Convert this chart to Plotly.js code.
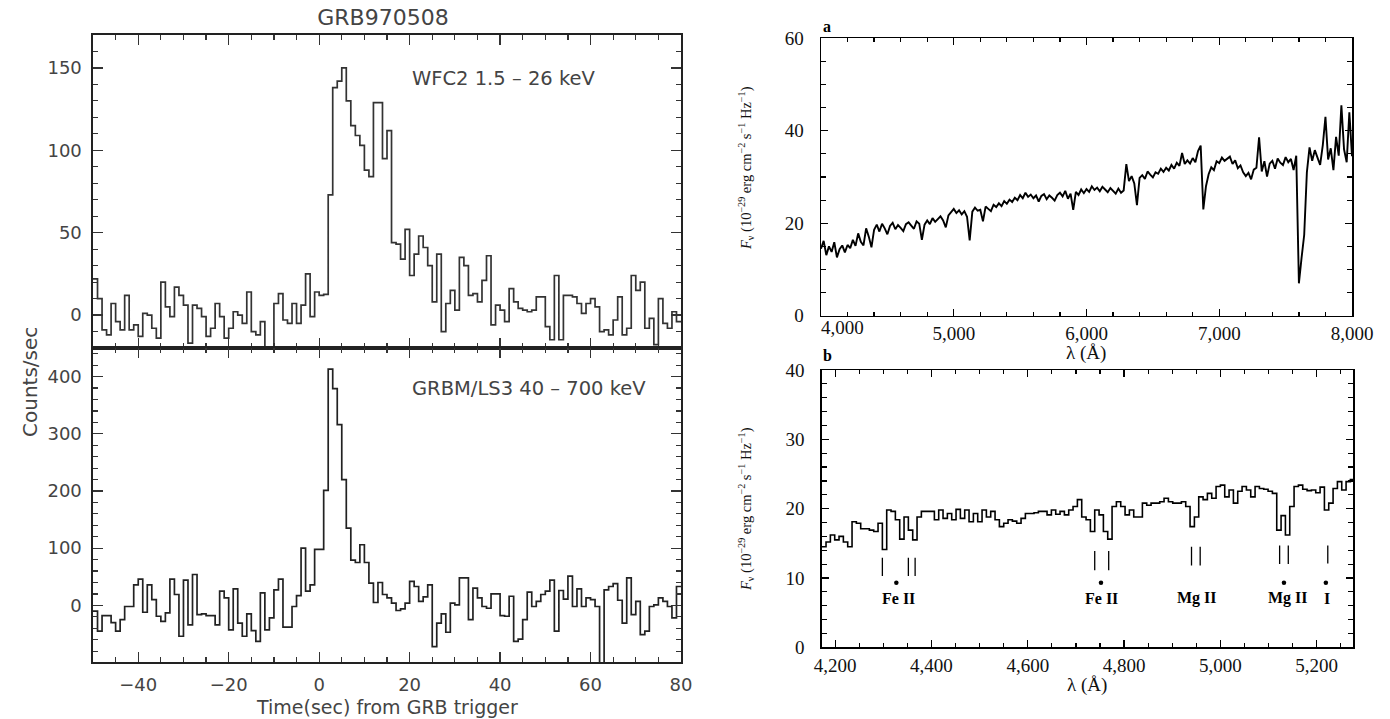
<!DOCTYPE html>
<html>
<head>
<meta charset="utf-8">
<script src="https://cdn.plot.ly/plotly-3.0.1.min.js"></script>
<style>html,body{margin:0;padding:0;background:#fff;}#chart{width:1390px;height:719px;}</style>
</head>
<body>
<div id="chart"></div>
<script>
// ---------- Left: GRB970508 light curves (1 s bins starting at -50 s) ----------
const binStart = -50;
const binWidth = 1;
const wfc2Counts = [
  22, 10, -9, -12, 7, -4, -9, 12, -9, -6,
  -13, 1, 0, -8, -14, 20, 5, -1, 17, 12,
  6, -17, 6, 4, -1, -13, -8, 7, -1, -14,
  -8, 2, 0, -5, 14, -10, -12, -4, -30, -30,
  7, 13, -3, -5, 7, -5, 6, 25, -1, 14,
  12, 12.5, 73, 138, 142, 150, 130, 115, 109, 103,
  88, 84, 129, 129, 95, 112, 44, 43, 34, 52,
  24, 37, 48, 41, 30, 8, 37, -10, 7, 15,
  3, 35, 30, 12, 13, 8, 21, 36, -6, 6,
  3, -4, 16, 8, 4, 3, 2, 3, 11, 11,
  -7, -15, 24, -15, 12, 12, 11, 7, 1, 7,
  10, 5, -10, -9, -12, -3, 11, -12, -8, 24,
  15, 20, -8, -2, -18, 10, -5, -8, 2, -4
];
const grbmCounts = [
  -10, -45, -18, -18, -30, -45, -25, -2, -2, 36,
  46, -12, 36, 10, -19, -28, -13, 46, 19, -54,
  44, -34, 54, -16, -15, -18, -18, -34, 25, 13,
  -43, 29, -31, -54, -15, -44, -63, 22, -43, -22,
  27, 46, -38, -38, -2, 17, 100, 25, 36, 98,
  98, 201, 413, 379, 316, 220, 135, 79, 75, 106,
  75, 39, 5, 40, 19, 13, 4, -9, -6, 4,
  42, 33, 7, 15, 36, -72, -31, -15, -47, 4,
  1, 48, 48, -25, 30, 13, -2, -5, 20, 20,
  -18, -19, 16, -63, -59, -25, 23, -2, 7, 19,
  25, 44, -45, 26, 11, 51, -2, 29, -2, 13,
  10, -2, -150, 27, 33, 38, 9, -31, 48, -16,
  7, -51, -45, -2, 1, 13, 7, -2, -22, 33
];

// ---------- Right a: spectrum 4000-8000 A, 20 A sampling ----------
const specAStart = 4000;
const specAStep = 20;
const fluxA = [
  14.5, 16.2, 13.1, 15.0, 13.8, 15.9, 12.6, 14.4, 15.2, 13.7,
  15.3, 14.6, 16.4, 15.1, 17.8, 16.0, 15.2, 18.9, 17.1, 14.8,
  18.6, 19.7, 18.2, 19.9, 18.9, 17.6, 19.4, 20.1, 18.7, 19.6,
  19.0, 18.3, 19.8, 20.2, 19.5, 18.8, 20.4, 19.9, 16.4, 19.7,
  20.6, 19.8, 21.1, 20.3, 20.9, 21.5, 20.6, 19.1, 21.7, 22.4,
  23.1, 22.2, 22.8, 21.9, 22.6, 21.4, 16.3, 22.5, 23.4, 22.7,
  22.9, 20.4, 23.6, 23.1, 22.6, 24.0, 23.5, 24.3, 23.7, 24.8,
  24.2, 25.1, 24.6, 25.5, 25.0, 26.1, 25.4, 26.6, 25.7, 26.2,
  25.4, 26.0, 24.7, 25.9, 26.3, 25.2, 26.0, 25.5, 24.9, 26.1,
  26.6, 25.8, 27.0, 25.3, 26.4, 22.9, 26.8, 26.1, 27.3, 26.5,
  27.4, 26.8, 28.0, 27.2, 27.7, 26.9, 27.9, 27.3, 26.7, 27.6,
  27.0, 26.4, 27.5, 26.6, 27.1, 32.8, 29.1, 30.2, 28.6, 23.9,
  29.8, 30.4, 29.6, 31.2, 30.5, 29.9, 31.0, 30.7, 31.8, 31.1,
  32.0, 31.4, 32.6, 31.8, 33.1, 32.4, 35.2, 32.8, 33.6, 32.9,
  34.1, 33.2, 35.6, 36.8, 23.0, 28.0, 30.6, 32.1, 31.5, 33.4,
  33.0, 34.2, 33.5, 33.9, 34.4, 32.8, 33.6, 31.9, 32.5, 31.0,
  30.2, 30.9, 29.5, 31.6, 32.0, 38.6, 31.2, 33.4, 30.1, 32.9,
  33.5, 31.8, 34.0, 33.1, 32.6, 34.3, 33.2, 33.9, 31.5, 34.6,
  7.0, 12.5, 17.5, 31.0, 36.4, 33.5, 35.8, 34.2, 32.6, 36.9,
  43.0, 33.8, 36.2, 31.5, 38.7, 34.6, 45.5, 36.0, 33.2, 44.0,
  34.5
];

// ---------- Right b: spectrum 4172-5276 A, 9 A bins ----------
const specBStart = 4172;
const specBStep = 9;
const fluxB = [
  14.5, 15.2, 16.2, 15.5, 16.0, 15.2, 14.5, 18.1, 17.9, 17.1,
  17.1, 16.9, 16.7, 17.9, 14.1, 19.8, 19.6, 18.4, 15.6, 18.8,
  16.9, 15.5, 18.8, 19.6, 19.6, 19.6, 18.4, 19.8, 18.6, 19.3,
  18.4, 19.9, 18.6, 19.8, 18.1, 19.3, 18.1, 19.8, 18.8, 19.6,
  18.4, 17.4, 17.9, 18.4, 18.2, 17.9, 18.6, 19.3, 19.3, 19.4,
  19.6, 19.6, 19.1, 19.8, 19.2, 19.6, 19.1, 19.8, 20.3, 21.3,
  18.8, 18.4, 16.7, 19.8, 19.1, 16.7, 15.6, 20.3, 21.0, 20.3,
  19.1, 19.8, 18.8, 18.8, 20.8, 20.5, 20.8, 20.8, 21.0, 21.5,
  21.0, 20.8, 20.8, 21.0, 20.3, 17.4, 18.8, 21.7, 21.3, 22.2,
  21.5, 23.2, 23.4, 21.7, 22.7, 20.8, 22.5, 23.2, 22.7, 21.7,
  23.2, 22.9, 22.8, 22.5, 22.2, 16.9, 19.0, 16.2, 20.3, 23.2,
  23.4, 22.8, 22.6, 22.7, 22.3, 23.1, 19.8, 20.8, 22.9, 23.9,
  22.7, 23.9, 24.2
];

// absorption line identifications (panel b)
const lineWaves  = [4298, 4352, 4366, 4739, 4768, 4940, 4958, 5123, 5141, 5223];
const lineTop    = [12.9, 12.9, 12.9, 13.9, 13.9, 14.5, 14.5, 14.7, 14.7, 14.7];
const lineBottom = [10.3, 10.3, 10.3, 11.1, 11.1, 11.8, 11.8, 12.0, 12.0, 12.1];
const dotWaves = [4327, 4752, 5132, 5219];
const dotLevel = 9.3;
const labelNames = ['Fe II', 'Fe II', 'Mg II', 'Mg II', 'I'];
const labelWaves = [4331, 4754, 4951, 5140, 5221];
const labelLevel = 7.1;

// ---------- build traces ----------
function edges(n, start, w) { const e = []; for (let i = 0; i <= n; i++) e.push(start + i * w); return e; }
function closeSteps(v) { return v.concat([v[v.length - 1]]); }

const tTop = edges(wfc2Counts.length, binStart, binWidth);
const tBot = edges(grbmCounts.length, binStart, binWidth);
const lamA = fluxA.map((_, i) => specAStart + i * specAStep);
const lamB = edges(fluxB.length, specBStart, specBStep);

const markX = [], markY = [];
lineWaves.forEach((w, i) => { markX.push(w, w, null); markY.push(lineBottom[i], lineTop[i], null); });

const traces = [
  {x: tTop, y: closeSteps(wfc2Counts), xaxis: 'x', yaxis: 'y', mode: 'lines',
   line: {shape: 'hv', color: '#333', width: 1.7}, hoverinfo: 'skip'},
  {x: tBot, y: closeSteps(grbmCounts), xaxis: 'x2', yaxis: 'y2', mode: 'lines',
   line: {shape: 'hv', color: '#222', width: 1.7}, hoverinfo: 'skip'},
  {x: lamA, y: fluxA, xaxis: 'x3', yaxis: 'y3', mode: 'lines',
   line: {color: '#000', width: 1.9}, hoverinfo: 'skip'},
  {x: lamB, y: closeSteps(fluxB), xaxis: 'x4', yaxis: 'y4', mode: 'lines',
   line: {shape: 'hv', color: '#000', width: 1.6}, hoverinfo: 'skip'},
  {x: markX, y: markY, xaxis: 'x4', yaxis: 'y4', mode: 'lines',
   line: {color: '#000', width: 1.3}, hoverinfo: 'skip'},
  {x: dotWaves, y: dotWaves.map(() => dotLevel), xaxis: 'x4', yaxis: 'y4', mode: 'markers',
   marker: {color: '#000', size: 4.5}, hoverinfo: 'skip'}
];

// ---------- layout ----------
const W = 1390, H = 719;
const px = v => v / W, py = v => 1 - v / H;

const SANS = 'DejaVu Sans, Verdana, sans-serif';
const SERIF = 'Liberation Serif, Times New Roman, serif';
const sansTick = {family: SANS, size: 18, color: '#444'};
const serifTick = {family: SERIF, size: 19, color: '#111'};

function leftAxis(extra) {
  return Object.assign({
    showline: true, linecolor: '#222', linewidth: 1.6, mirror: 'ticks',
    ticks: 'inside', ticklen: 10, tickwidth: 1.2, tickcolor: '#333',
    showgrid: false, zeroline: false, tickfont: sansTick, ticklabelstandoff: 6
  }, extra);
}
function rightAxis(extra) {
  return Object.assign({
    showline: true, linecolor: '#000', linewidth: 1.5, mirror: 'ticks',
    ticks: 'inside', ticklen: 7, tickwidth: 1.2, tickcolor: '#000',
    showgrid: false, zeroline: false, tickfont: serifTick, ticklabelstandoff: 0
  }, extra);
}
function note(text, x, y, font, extra) {
  return Object.assign({text: text, xref: 'paper', yref: 'paper', x: px(x), y: py(y),
    showarrow: false, xanchor: 'center', yanchor: 'middle', font: font}, extra || {});
}

const leftX = [px(93), px(681)];
const specTitle = '<i>F</i><sub>ν</sub> (10<sup>−29</sup> erg cm<sup>−2</sup> s<sup>−1</sup> Hz<sup>−1</sup>)';
const layout = {
  width: W, height: H,
  margin: {l: 0, r: 0, t: 0, b: 0},
  paper_bgcolor: '#fff', plot_bgcolor: '#fff',
  showlegend: false,
  title: {text: 'GRB970508', x: px(383), xanchor: 'center', y: py(17), yanchor: 'middle',
          font: {family: SANS, size: 22, color: '#444'}},
  xaxis: leftAxis({domain: leftX, anchor: 'y', range: [-50, 80], dtick: 20, tick0: 0,
    showticklabels: false, minor: {ticks: 'inside', ticklen: 5, dtick: 5, tickcolor: '#333'}}),
  yaxis: leftAxis({domain: [py(348), py(35)], anchor: 'x', range: [-20, 170], dtick: 50, tick0: 0,
    minor: {ticks: 'inside', ticklen: 5, dtick: 10, tickcolor: '#333'}}),
  xaxis2: leftAxis({domain: leftX, anchor: 'y2', range: [-50, 80], dtick: 20, tick0: 0,
    ticklabelstandoff: 6,
    minor: {ticks: 'inside', ticklen: 5, dtick: 5, tickcolor: '#333'}}),
  yaxis2: leftAxis({domain: [py(662), py(348)], anchor: 'x2', range: [-99, 450], dtick: 100, tick0: 0,
    minor: {ticks: 'inside', ticklen: 5, dtick: 20, tickcolor: '#333'}}),
  xaxis3: rightAxis({domain: [px(821), px(1352)], anchor: 'y3', range: [4000, 8000],
    tickvals: [4000, 5000, 6000, 7000, 8000], ticktext: ['', '5,000', '6,000', '7,000', '8,000'],
    minor: {ticks: 'inside', ticklen: 4, dtick: 200, tick0: 4000, tickcolor: '#000'}}),
  yaxis3: rightAxis({domain: [py(315.7), py(38.3)], anchor: 'x3', range: [0, 60], dtick: 20, tick0: 0,
    ticklabelstandoff: 12,
    minor: {ticks: 'inside', ticklen: 5, dtick: 5, tickcolor: '#000'}}),
  xaxis4: rightAxis({domain: [px(821.7), px(1353.3)], anchor: 'y4', range: [4172, 5276],
    dtick: 200, tick0: 4200, tickformat: ',d',
    minor: {ticks: 'inside', ticklen: 4, dtick: 50, tick0: 4200, tickcolor: '#000'}}),
  yaxis4: rightAxis({domain: [py(647.3), py(370)], anchor: 'x4', range: [0, 40], dtick: 10, tick0: 0,
    ticklabelstandoff: 12,
    minor: {ticks: 'inside', ticklen: 5, dtick: 2, tickcolor: '#000'}}),
  annotations: [
    note('Counts/sec', 30, 382, {family: SANS, size: 20, color: '#444'}, {textangle: -90}),
    note('Time(sec) from GRB trigger', 387, 707, {family: SANS, size: 19, color: '#444'}),
    note('WFC2 1.5 – 26 keV', 410, 79, {family: SANS, size: 19.5, color: '#444'}, {xanchor: 'left'}),
    note('GRBM/LS3 40 – 700 keV', 410, 389, {family: SANS, size: 19.5, color: '#444'}, {xanchor: 'left'}),
    note('<b>a</b>', 821, 27, {family: SERIF, size: 16, color: '#000'}, {xanchor: 'left'}),
    note('<b>b</b>', 821, 356, {family: SERIF, size: 16, color: '#000'}, {xanchor: 'left'}),
    note('4,000', 842, 328, serifTick),
    note('λ (Å)', 1086, 353, {family: SERIF, size: 19, color: '#111'}),
    note('λ (Å)', 1087, 685, {family: SERIF, size: 19, color: '#111'}),
    note(specTitle, 746, 168, {family: SERIF, size: 14.5, color: '#111'}, {textangle: -90}),
    note(specTitle, 746, 509, {family: SERIF, size: 14.5, color: '#111'}, {textangle: -90})
  ].concat(labelNames.map((t, i) => ({
    text: '<b>' + t + '</b>', xref: 'x4', yref: 'y4', x: labelWaves[i], y: labelLevel,
    showarrow: false, xanchor: 'center', yanchor: 'middle',
    font: {family: SERIF, size: 16, color: '#000'}
  })))
};

Plotly.newPlot('chart', traces, layout, {staticPlot: true, displayModeBar: false});
</script>
</body>
</html>
